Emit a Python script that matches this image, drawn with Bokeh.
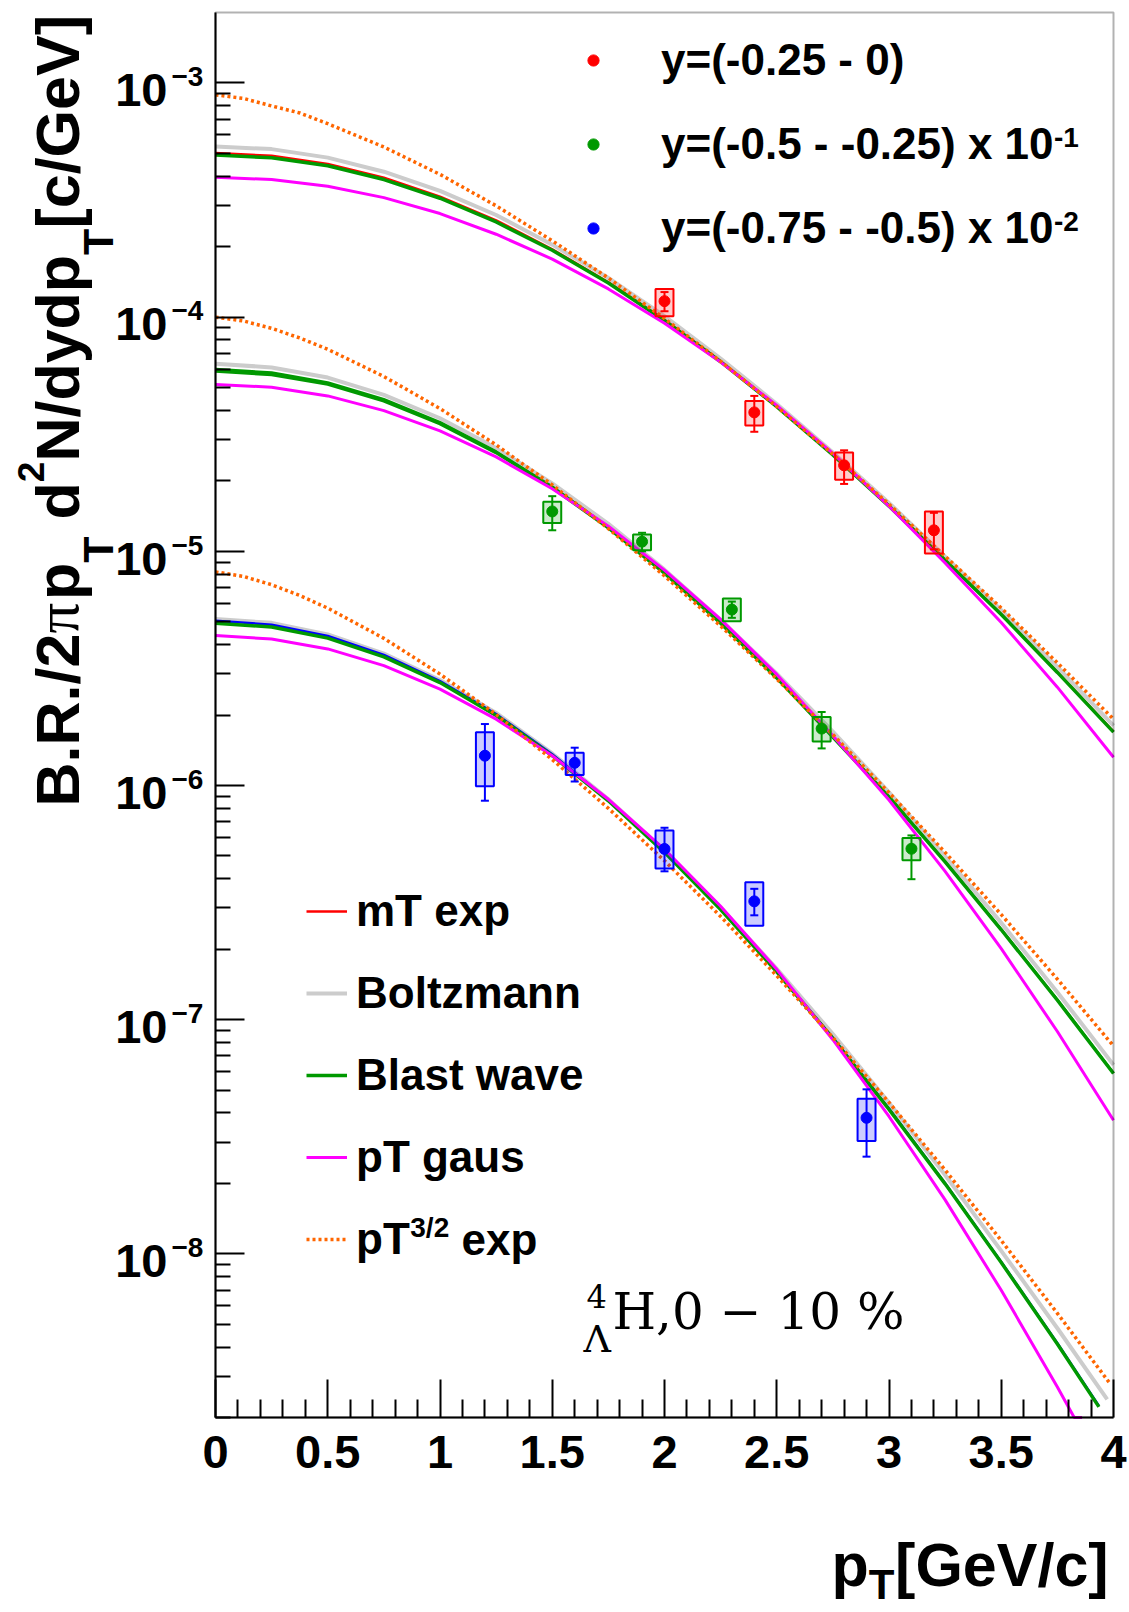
import math
from bokeh.plotting import figure
from bokeh.models import (Range1d, FixedTicker, Label, Whisker, TeeHead, ColumnDataSource,
                          CustomJSTickFormatter, Legend, LegendItem, BoxAnnotation)
from bokeh.embed import file_html
from bokeh.resources import INLINE

# ---------------- data ----------------
pt_grid = [0.0, 0.25, 0.5, 0.75, 1.0, 1.25, 1.5, 1.75, 2.0, 2.25, 2.5, 2.75, 3.0, 3.25, 3.5, 3.75, 4.0]
# the pT^(3/2) curves bend fastest near 0, so they are read a little more densely there
pt32_grid = [0.0, 0.125, 0.25, 0.375, 0.5, 0.75, 1.0, 1.25, 1.5, 1.75, 2.0, 2.25, 2.5, 2.75,
             3.0, 3.25, 3.5, 3.75, 4.0]

# series 1 : y = (-0.25 - 0)
s1_pt = [2.0, 2.4, 2.8, 3.2]
s1_val = [1.17e-4, 3.92e-5, 2.33e-5, 1.23e-5]
s1_stat_lo = [1.06e-4, 3.24e-5, 1.94e-5, 1.02e-5]
s1_stat_hi = [1.28e-4, 4.61e-5, 2.70e-5, 1.46e-5]
s1_sys_lo = [1.01e-4, 3.45e-5, 2.02e-5, 0.98e-5]
s1_sys_hi = [1.32e-4, 4.38e-5, 2.64e-5, 1.48e-5]
s1_mt = [5.02e-4, 4.89e-4, 4.51e-4, 3.94e-4, 3.27e-4, 2.59e-4, 1.95e-4, 1.41e-4, 9.74e-5,
         6.48e-5, 4.17e-5, 2.59e-5, 1.57e-5, 9.19e-6, 5.39e-6, 3.05e-6, 1.70e-6]
s1_boltz = [5.35e-4, 5.22e-4, 4.80e-4, 4.18e-4, 3.46e-4, 2.73e-4, 2.04e-4, 1.47e-4, 1.01e-4,
            6.65e-5, 4.26e-5, 2.64e-5, 1.61e-5, 9.49e-6, 5.61e-6, 3.21e-6, 1.80e-6]
s1_blast = [4.92e-4, 4.79e-4, 4.43e-4, 3.87e-4, 3.22e-4, 2.55e-4, 1.93e-4, 1.40e-4, 9.67e-5,
            6.45e-5, 4.15e-5, 2.58e-5, 1.56e-5, 9.15e-6, 5.37e-6, 3.04e-6, 1.69e-6]
s1_gaus = [3.96e-4, 3.87e-4, 3.62e-4, 3.24e-4, 2.77e-4, 2.26e-4, 1.77e-4, 1.32e-4, 9.42e-5,
           6.43e-5, 4.20e-5, 2.62e-5, 1.56e-5, 8.92e-6, 4.97e-6, 2.63e-6, 1.32e-6]
s1_pt32 = [8.90e-4, 8.59e-4, 7.98e-4, 7.45e-4, 6.70e-4, 5.33e-4, 4.07e-4, 2.99e-4, 2.12e-4,
           1.47e-4, 9.87e-5, 6.48e-5, 4.15e-5, 2.60e-5, 1.59e-5, 9.53e-6, 5.73e-6, 3.34e-6,
           1.92e-6]

# series 2 : y = (-0.5 - -0.25) x 10^-1
s2_pt = [1.5, 1.9, 2.3, 2.7, 3.1]
s2_val = [1.48e-5, 1.10e-5, 5.64e-6, 1.75e-6, 5.37e-7]
s2_stat_lo = [1.23e-5, 1.00e-5, 5.20e-6, 1.44e-6, 3.98e-7]
s2_stat_hi = [1.72e-5, 1.20e-5, 6.10e-6, 2.06e-6, 6.12e-7]
s2_sys_lo = [1.32e-5, 1.01e-5, 5.03e-6, 1.54e-6, 4.80e-7]
s2_sys_hi = [1.63e-5, 1.18e-5, 6.29e-6, 1.96e-6, 5.97e-7]
s2_mt = [6.00e-5, 5.80e-5, 5.26e-5, 4.46e-5, 3.56e-5, 2.67e-5, 1.89e-5, 1.27e-5, 8.12e-6,
         4.95e-6, 2.89e-6, 1.62e-6, 8.96e-7, 4.74e-7, 2.43e-7, 1.22e-7, 5.92e-8]
s2_boltz = [6.33e-5, 6.10e-5, 5.52e-5, 4.66e-5, 3.70e-5, 2.76e-5, 1.95e-5, 1.31e-5, 8.35e-6,
            5.10e-6, 3.00e-6, 1.70e-6, 9.34e-7, 4.99e-7, 2.59e-7, 1.31e-7, 6.41e-8]
s2_blast = [5.89e-5, 5.69e-5, 5.18e-5, 4.39e-5, 3.51e-5, 2.64e-5, 1.87e-5, 1.26e-5, 8.06e-6,
            4.93e-6, 2.88e-6, 1.61e-6, 8.92e-7, 4.72e-7, 2.42e-7, 1.21e-7, 5.89e-8]
s2_gaus = [5.16e-5, 5.02e-5, 4.61e-5, 3.99e-5, 3.27e-5, 2.53e-5, 1.85e-5, 1.28e-5, 8.31e-6,
           5.12e-6, 2.98e-6, 1.63e-6, 8.67e-7, 4.30e-7, 2.01e-7, 8.90e-8, 3.72e-8]
s2_pt32 = [1.00e-4, 9.63e-5, 8.96e-5, 8.15e-5, 7.29e-5, 5.58e-5, 4.07e-5, 2.85e-5, 1.92e-5,
           1.25e-5, 7.85e-6, 4.80e-6, 2.85e-6, 1.65e-6, 9.32e-7, 5.18e-7, 2.81e-7, 1.49e-7,
           7.72e-8]

# series 3 : y = (-0.75 - -0.5) x 10^-2  (curves end where they reach the frame bottom)
s3_pt = [1.2, 1.6, 2.0, 2.4, 2.9]
s3_val = [1.34e-6, 1.25e-6, 5.36e-7, 3.20e-7, 3.81e-8]
s3_stat_lo = [8.61e-7, 1.04e-6, 4.30e-7, 2.79e-7, 2.60e-8]
s3_stat_hi = [1.83e-6, 1.45e-6, 6.60e-7, 3.62e-7, 5.04e-8]
s3_sys_lo = [9.93e-7, 1.11e-6, 4.42e-7, 2.52e-7, 3.03e-8]
s3_sys_hi = [1.69e-6, 1.38e-6, 6.43e-7, 3.86e-7, 4.60e-8]
s3_mt_pt = pt_grid[:-1] + [3.935]
s3_mt = [5.05e-6, 4.86e-6, 4.35e-6, 3.61e-6, 2.79e-6, 2.02e-6, 1.36e-6, 8.68e-7, 5.22e-7,
         2.97e-7, 1.61e-7, 8.37e-8, 4.17e-8, 2.00e-8, 9.24e-9, 4.15e-9, 2.24e-9]
s3_boltz_pt = pt_grid[:-1] + [3.972]
s3_boltz = [5.14e-6, 4.95e-6, 4.42e-6, 3.66e-6, 2.82e-6, 2.04e-6, 1.37e-6, 8.74e-7, 5.27e-7,
            3.01e-7, 1.65e-7, 8.68e-8, 4.42e-8, 2.17e-8, 1.03e-8, 4.81e-9, 2.39e-9]
s3_blast_pt = pt_grid[:-1] + [3.935]
s3_blast = [4.93e-6, 4.75e-6, 4.26e-6, 3.54e-6, 2.75e-6, 1.99e-6, 1.34e-6, 8.60e-7, 5.18e-7,
            2.95e-7, 1.60e-7, 8.31e-8, 4.14e-8, 1.99e-8, 9.18e-9, 4.12e-9, 2.22e-9]
s3_gaus_pt = pt_grid[:-1] + [3.825, 3.86]
s3_gaus = [4.37e-6, 4.22e-6, 3.83e-6, 3.25e-6, 2.58e-6, 1.92e-6, 1.34e-6, 8.73e-7, 5.34e-7,
           3.05e-7, 1.64e-7, 8.21e-8, 3.86e-8, 1.70e-8, 6.99e-9, 2.70e-9, 2.0e-9, 2.0e-9]
s3_pt32_pt = pt32_grid[:-1] + [3.98]
s3_pt32 = [8.17e-6, 7.81e-6, 7.20e-6, 6.48e-6, 5.72e-6, 4.25e-6, 2.99e-6, 2.01e-6, 1.29e-6,
           7.99e-7, 4.77e-7, 2.76e-7, 1.54e-7, 8.39e-8, 4.43e-8, 2.28e-8, 1.14e-8, 5.57e-9,
           2.83e-9]

series_labels = ["y=(-0.25 - 0)", "y=(-0.5 - -0.25) x 10", "y=(-0.75 - -0.5) x 10"]
series_label_sup = ["", "-1", "-2"]
model_labels = ["mT exp", "Boltzmann", "Blast wave", "pT gaus", "pT"]

x_major = [0, 0.5, 1, 1.5, 2, 2.5, 3, 3.5, 4]
y_major_exp = [-3, -4, -5, -6, -7, -8]

# ---------------- layout ----------------
W, H = 1129, 1612
FL, FR, FT, FB = 215, 1113, 12, 1417          # inner (axes) box in canvas pixels
XMIN, XMAX = 0.0, 4.0
YMIN, YMAX = 2e-9, 2e-3
LY0, LY1 = math.log10(YMIN), math.log10(YMAX)
PPX = (FR - FL) / (XMAX - XMIN)                # pixels per x unit
PPD = (FB - FT) / (LY1 - LY0)                  # pixels per decade


def xpx(v):
    return FL + (v - XMIN) * PPX


def ypx(v):
    return FT + (LY1 - math.log10(v)) * PPD


# the plotting frame covers the whole canvas; the axes sit on the inner box
canvas_x = (XMIN - FL / PPX, XMAX + (W - FR) / PPX)
canvas_y = (10 ** (LY0 - (H - FB) / PPD), 10 ** (LY1 + FT / PPD))

RED, GREEN, BLUE = "#ff0000", "#009900", "#0000ff"
GREY, MAGENTA, ORANGE = "#cccccc", "#ff00ff", "#ff6600"
SANS = "Liberation Sans"

p = figure(width=W, height=H, x_range=Range1d(*canvas_x), y_range=Range1d(*canvas_y),
           y_axis_type="log", output_backend="svg", toolbar_location=None,
           min_border_left=0, min_border_right=0, min_border_top=0, min_border_bottom=0)
p.grid.visible = False
p.outline_line_color = None
p.background_fill_color = "white"
p.border_fill_color = "white"

blank = CustomJSTickFormatter(code="return ''")
xa = p.xaxis[0]
xa.fixed_location = YMIN
xa.bounds = (XMIN, XMAX)
xa.ticker = FixedTicker(ticks=x_major,
                        minor_ticks=[round(0.1 * i, 1) for i in range(41) if i % 5 != 0])
xa.formatter = blank
xa.major_tick_in, xa.major_tick_out = 38, 0
xa.minor_tick_in, xa.minor_tick_out = 18, 0
xa.major_tick_line_width = 2
xa.minor_tick_line_width = 2
xa.axis_line_width = 2
xa.major_label_standoff = 0

ya = p.yaxis[0]
ya.fixed_location = XMIN
ya.bounds = (YMIN, YMAX)
ya.ticker = FixedTicker(ticks=[10.0 ** e for e in y_major_exp],
                        minor_ticks=[k * 10.0 ** e for e in range(-9, -3) for k in range(2, 10)])
ya.formatter = blank
ya.major_tick_in, ya.major_tick_out = 29, 0
ya.minor_tick_in, ya.minor_tick_out = 15, 0
ya.major_tick_line_width = 2
ya.minor_tick_line_width = 2
ya.axis_line_width = 2
ya.major_label_standoff = 0

p.add_layout(BoxAnnotation(left=XMIN, right=XMAX, bottom=YMIN, top=YMAX, fill_alpha=0,
                           fill_color=None, line_color="black", line_width=2, level="overlay"))


def put(text, xf, yf, size, font=SANS, style="bold", align="left", angle=0.0, color="black"):
    # canvas pixels from the top-left corner; yf is the vertical middle of the text line
    p.add_layout(Label(x=xf, y=yf, x_units="canvas", y_units="canvas", text=text,
                       text_font=font, text_font_size=f"{size}px", text_font_style=style,
                       text_align=align, text_baseline="middle", angle=angle,
                       text_color=color))


series = [
    (RED, s1_pt, s1_val, s1_stat_lo, s1_stat_hi, s1_sys_lo, s1_sys_hi,
     [(pt_grid, s1_boltz), (pt_grid, s1_mt), (pt_grid, s1_blast), (pt_grid, s1_gaus),
      (pt32_grid, s1_pt32)]),
    (GREEN, s2_pt, s2_val, s2_stat_lo, s2_stat_hi, s2_sys_lo, s2_sys_hi,
     [(pt_grid, s2_boltz), (pt_grid, s2_mt), (pt_grid, s2_blast), (pt_grid, s2_gaus),
      (pt32_grid, s2_pt32)]),
    (BLUE, s3_pt, s3_val, s3_stat_lo, s3_stat_hi, s3_sys_lo, s3_sys_hi,
     [(s3_boltz_pt, s3_boltz), (s3_mt_pt, s3_mt), (s3_blast_pt, s3_blast),
      (s3_gaus_pt, s3_gaus), (s3_pt32_pt, s3_pt32)]),
]

curve_renderers = []
for (col, pts, vals, slo, shi, ylo, yhi, curves) in series:
    (xb, yb), (xm, ym), (xw, yw), (xg, yg), (xo, yo) = curves
    r_bz = p.line(xb, yb, line_color=GREY, line_width=4)
    r_mt = p.line(xm, ym, line_color=col, line_width=2.5)
    r_bw = p.line(xw, yw, line_color=GREEN, line_width=3.5)
    r_ga = p.line(xg, yg, line_color=MAGENTA, line_width=3)
    r_p32 = p.line(xo, yo, line_color=ORANGE, line_width=3.5, line_dash="3 3")
    curve_renderers.append((r_mt, r_bz, r_bw, r_ga, r_p32))

marker_renderers = []
for (col, pts, vals, slo, shi, ylo, yhi, _curves) in series:
    p.quad(left=[v - 0.04 for v in pts], right=[v + 0.04 for v in pts], bottom=ylo, top=yhi,
           fill_color=col, fill_alpha=0.2, line_color=col, line_width=2)
    src = ColumnDataSource(dict(x=pts, lo=slo, hi=shi))
    p.add_layout(Whisker(source=src, base="x", lower="lo", upper="hi", dimension="height",
                         line_color=col, line_width=2, level="overlay",
                         upper_head=TeeHead(size=8, line_color=col, line_width=2),
                         lower_head=TeeHead(size=8, line_color=col, line_width=2)))
    r = p.scatter(pts, vals, size=11, marker="circle", fill_color=col, line_color=col)
    marker_renderers.append(r)

# ---------------- legends (frame = whole canvas) ----------------
leg1 = Legend(items=[LegendItem(label=series_labels[i], renderers=[marker_renderers[i]])
                     for i in range(3)],
              location=(579, 1356), orientation="vertical",
              glyph_width=28, glyph_height=56, label_height=56, label_standoff=54,
              spacing=28, padding=0, margin=0, border_line_alpha=0,
              background_fill_alpha=0, label_text_font=SANS, label_text_font_style="bold",
              label_text_font_size="44px", label_text_color="black")
p.add_layout(leg1)
put(series_label_sup[1], 1053.5, 137, 28)
put(series_label_sup[2], 1053.5, 221, 28)

top = curve_renderers[0]
leg2 = Legend(items=[LegendItem(label=model_labels[k], renderers=[top[k]]) for k in range(5)],
              location=(306, 345), orientation="vertical",
              glyph_width=41, glyph_height=56, label_height=56, label_standoff=9,
              spacing=26, padding=0, margin=0, border_line_alpha=0,
              background_fill_alpha=0, label_text_font=SANS, label_text_font_style="bold",
              label_text_font_size="44px", label_text_color="black")
p.add_layout(leg2)
put("3/2", 409.8, 1227, 28)
put("exp", 461.0, 1238.7, 44)

# ---------------- tick labels ----------------
for v in x_major:
    put(f"{v:g}", xpx(v), 1451.7, 47, align="center")
for e in y_major_exp:
    ty = ypx(10.0 ** e)
    put("10", 167, ty + 7.2, 47, align="right")
    put("\u2212" + str(-e), 171, ty - 6.2, 28)

# ---------------- axis titles ----------------
ang = math.pi / 2
for text, ypos, xmid, size, font, style in [
        ("B.R./2", 806.0, 57, 61, SANS, "bold"),
        ("\u03c0", 633.1, 57, 61, "Liberation Serif", "normal"),
        ("p", 599.6, 57, 61, SANS, "bold"),
        ("T", 562.3, 97, 43, SANS, "bold"),
        ("d", 519.0, 57, 61, SANS, "bold"),
        ("2", 481.7, 30, 37, SANS, "bold"),
        ("N/dydp", 461.1, 57, 61, SANS, "bold"),
        ("T", 254.4, 97, 43, SANS, "bold"),
        ("[c/GeV]", 228.1, 57, 61, SANS, "bold")]:
    put(text, xmid, ypos, size, font=font, style=style, angle=ang)

put("p", 831, 1564, 61)
put("T", 868.3, 1584, 42)
put("[GeV/c]", 894.6, 1564, 61)

# ---------------- particle / centrality text ----------------
put("4", 586, 1296, 32, font="DejaVu Serif", style="normal")
put("\u039b", 583, 1338, 38, font="DejaVu Serif", style="normal")
put("H,0 \u2212 10 %", 612, 1311, 50, font="DejaVu Serif", style="normal")

open("out.html", "w").write(file_html(p, INLINE))
